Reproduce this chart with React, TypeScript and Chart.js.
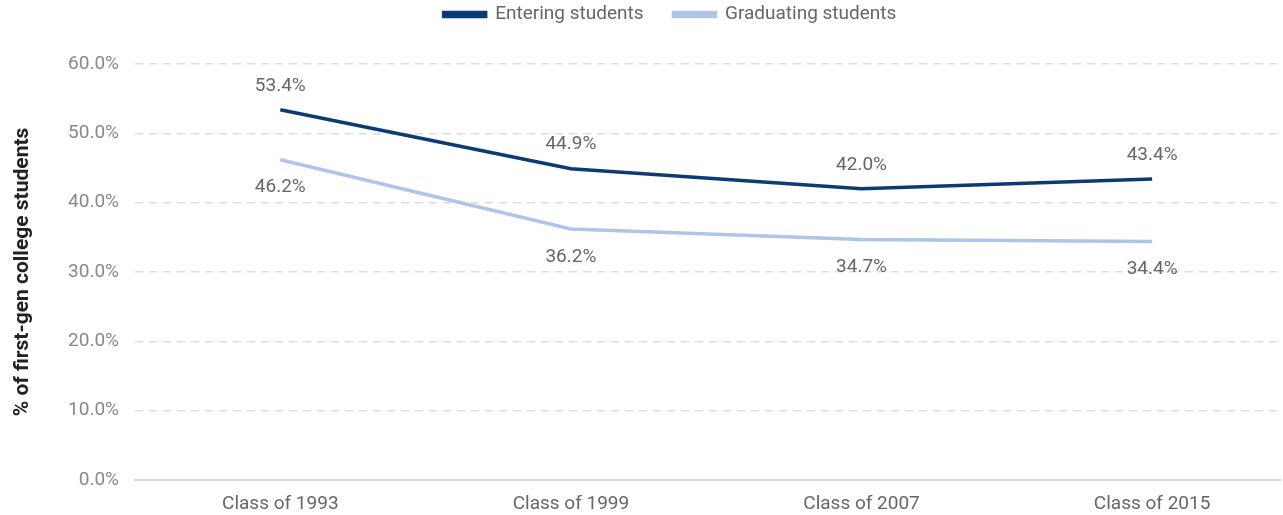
import React, { useEffect, useRef } from "react";
import { Chart, registerables } from "chart.js";

Chart.register(...registerables);

const categories = ["Class of 1993", "Class of 1999", "Class of 2007", "Class of 2015"];
const entering = [53.4, 44.9, 42.0, 43.4];
const graduating = [46.2, 36.2, 34.7, 34.4];
const seriesNames = ["Entering students", "Graduating students"];
const yTicks = [0, 10, 20, 30, 40, 50, 60];

const DARK = "#0c3b73";
const LIGHT = "#aec4e8";
const FONT = "Roboto";

const labelPlugin = {
  id: "valueLabels",
  afterDatasetsDraw(chart: any) {
    const ctx = chart.ctx;
    ctx.save();
    ctx.font = "19px " + FONT;
    ctx.fillStyle = "#666666";
    ctx.textAlign = "center";
    ctx.textBaseline = "middle";
    chart.data.datasets.forEach((ds: any, di: number) => {
      const meta = chart.getDatasetMeta(di);
      meta.data.forEach((pt: any, i: number) => {
        const v = ds.data[i].y;
        const dy = di === 0 ? -24 : 28;
        ctx.fillText(v.toFixed(1) + "%", pt.x, pt.y + dy);
      });
    });
    ctx.restore();
  },
};

const legendSpacePlugin = {
  id: "legendSpace",
  afterInit(chart: any) {
    const lg = chart.legend;
    if (lg && !lg.__patched) {
      const origFit = lg.fit;
      lg.fit = function (this: any) {
        origFit.call(this);
        this.height += 30;
      };
      const origDraw = lg.draw;
      lg.draw = function (this: any, ...args: any[]) {
        const ctx = this.ctx;
        ctx.save();
        ctx.translate(30, 0);
        origDraw.apply(this, args);
        ctx.restore();
      };
      lg.__patched = true;
    }
  },
};

export default function App() {
  const ref = useRef<HTMLCanvasElement>(null);
  useEffect(() => {
    const chart = new Chart(ref.current!, {
      type: "line",
      data: {
        datasets: [
          {
            label: seriesNames[0],
            data: entering.map((y, i) => ({ x: i, y })),
            borderColor: DARK,
            backgroundColor: DARK,
            borderWidth: 3.5,
            pointRadius: 0,
            tension: 0,
          },
          {
            label: seriesNames[1],
            data: graduating.map((y, i) => ({ x: i, y })),
            borderColor: LIGHT,
            backgroundColor: LIGHT,
            borderWidth: 3.5,
            pointRadius: 0,
            tension: 0,
          },
        ],
      },
      options: {
        animation: false,
        responsive: true,
        maintainAspectRatio: false,
        layout: { padding: { left: 0, right: 3, top: -25, bottom: 0 } },
        plugins: {
          legend: {
            position: "top",
            labels: {
              boxWidth: 42,
              boxHeight: 4,
              font: { family: FONT, size: 19 },
              color: "#666666",
              padding: 30,
            },
          },
          tooltip: { enabled: false },
        },
        scales: {
          x: {
            type: "linear",
            min: -0.5,
            max: 3.44,
            afterBuildTicks: (scale: any) => {
              scale.ticks = categories.map((_, i) => ({ value: i }));
            },
            afterFit: (scale: any) => {
              scale.height = 35;
            },
            ticks: {
              callback: (v: any) => categories[v] ?? "",
              font: { family: FONT, size: 19 },
              color: "#666666",
              padding: 13,
              autoSkip: false,
              maxRotation: 0,
            },
            grid: { display: false, drawTicks: false },
            border: { display: true, color: "#d6d6d6", width: 2 },
          },
          y: {
            min: 0,
            max: 60,
            afterBuildTicks: (scale: any) => {
              scale.ticks = yTicks.map((v) => ({ value: v }));
            },
            afterFit: (scale: any) => {
              scale.width = 135;
            },
            ticks: {
              callback: (v: any) => Number(v).toFixed(1) + "%",
              font: { family: FONT, size: 19 },
              color: "#888888",
              padding: 16,
            },
            grid: {
              color: (c: any) => (c.tick && c.tick.value === 0 ? "rgba(0,0,0,0)" : "#dcdcdc"),
              lineWidth: 1.5,
              drawTicks: false,
            },
            border: { display: false, dash: [8, 6] },
            title: {
              display: true,
              text: "% of first-gen college students",
              font: { family: FONT, size: 21, weight: "bold" },
              color: "#222222",
              padding: { top: 10, bottom: 6 },
            },
          },
        },
      },
      plugins: [legendSpacePlugin, labelPlugin],
    });
    return () => chart.destroy();
  }, []);
  return (
    <div style={{ position: "fixed", left: 0, top: 0, width: 1283, height: 515 }}>
      <canvas ref={ref} />
    </div>
  );
}
